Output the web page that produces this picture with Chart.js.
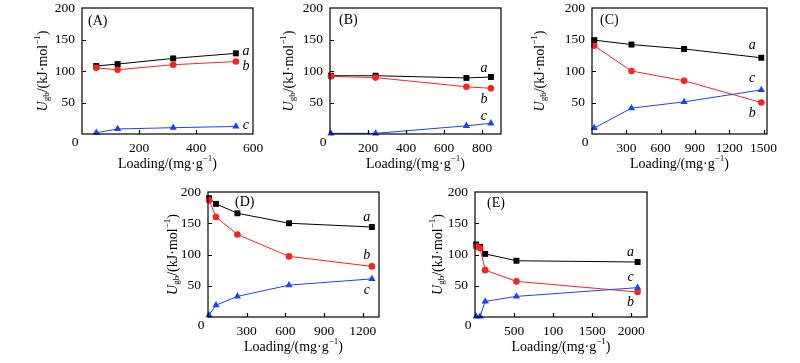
<!DOCTYPE html>
<html>
<head>
<meta charset="utf-8">
<script src="https://cdn.jsdelivr.net/npm/chart.js@4.4.0/dist/chart.umd.min.js"></script>
<style>
  body { margin: 0; background: #fff; width: 800px; height: 363px; position: relative; overflow: hidden; }
  canvas { position: absolute; }
</style>
</head>
<body>
<canvas id="chartA"></canvas>
<canvas id="chartB"></canvas>
<canvas id="chartC"></canvas>
<canvas id="chartD"></canvas>
<canvas id="chartE"></canvas>
<script>
// ---------------------- DATA ---------------------
const loadA = [50, 125, 320, 540];
const aA = [108, 111, 120, 128];
const bA = [105, 102, 110, 115];
const cA = [2, 8, 10, 12];
const xTicksA = [0, 200, 400, 600];

const loadB = [5, 240, 718, 847];
const aB = [92.5, 92.5, 89, 90.5];
const bB = [91.5, 89.5, 75, 72.5];
const cB = [1, 1, 13, 17];
const xTicksB = [0, 200, 400, 600, 800];

const loadC = [20, 345, 805, 1480];
const aC = [149, 142, 135, 121];
const bC = [140, 100, 84.5, 50];
const cC = [9.5, 41, 51, 70];
const xTicksC = [0, 300, 600, 900, 1200, 1500];

const loadD = [8, 62, 228, 628, 1270];
const aD = [190, 181, 166, 150, 144];
const bD = [187, 160, 132, 97, 81];
const cD = [3, 19, 33, 51, 61];
const xTicksD = [0, 300, 600, 900, 1200];

const loadE = [15, 65, 130, 530, 2080];
const aE = [116, 112, 101, 90, 88];
const bE = [113, 110, 75, 57, 40];
const cE = [1, 1, 25, 33, 47];
const xTicksE = [0, 500, 1000, 1500, 2000];
const xTickTextE = ["0", "500", "100", "1500", "2000"];   // as printed in the figure

const yTicks = [0, 50, 100, 150, 200];

// ---------------------- PANELS ---------------------
const SERIF = "'Liberation Serif', 'Times New Roman', serif";
const RED = "#ff2020";
const BLUE = "#1e40ff";

const panels = [
  { id: "chartA", letter: "(A)", L: 82, T: 8, R: 253, B: 134, xMax: 600, xTicks: xTicksA,
    load: loadA, a: aA, b: bA, c: cA, letterDx: 6, letterDy: 13, titleDx: -39,
    tagX: 575, tagY: { a: 132, b: 108, c: 14 } },
  { id: "chartB", letter: "(B)", L: 330, T: 8, R: 501, B: 134, xMax: 900, xTicks: xTicksB,
    load: loadB, a: aB, b: bB, c: cB, letterDx: 9, letterDy: 12, titleDx: -41,
    tagX: 810, tagY: { a: 105, b: 55, c: 28 } },
  { id: "chartC", letter: "(C)", L: 592, T: 8, R: 767, B: 134, xMax: 1530, xTicks: xTicksC,
    load: loadC, a: aC, b: bC, c: cC, letterDx: 8, letterDy: 12, titleDx: -52,
    tagX: 1400, tagY: { a: 141, b: 33, c: 89 } },
  { id: "chartD", letter: "(D)", L: 208, T: 192, R: 379, B: 317, xMax: 1325, xTicks: xTicksD,
    load: loadD, a: aD, b: bD, c: cD, letterDx: 27, letterDy: 10, titleDx: -35,
    tagX: 1230, tagY: { a: 160, b: 98, c: 43 } },
  { id: "chartE", letter: "(E)", L: 475, T: 192, R: 647, B: 317, xMax: 2200, xTicks: xTicksE,
    xTickText: xTickTextE,
    load: loadE, a: aE, b: bE, c: cE, letterDx: 12, letterDy: 11, titleDx: -37,
    tagX: 1990, tagY: { a: 103, b: 23, c: 64 } }
];

// draws text pieces side by side (for sub/superscripts), centred on cx
function richText(ctx, parts, cx, cy) {
  let w = 0;
  parts.forEach(p => { ctx.font = p[1]; w += ctx.measureText(p[0]).width; });
  let x = cx - w / 2;
  ctx.textAlign = "left";
  ctx.textBaseline = "middle";
  parts.forEach(p => {
    ctx.font = p[1];
    ctx.fillText(p[0], x, cy + p[2]);
    x += ctx.measureText(p[0]).width;
  });
}

const decoPlugin = {
  id: "deco",
  afterDraw(chart, args, o) {
    const ctx = chart.ctx;
    const ar = chart.chartArea;
    const xs = chart.scales.x, ys = chart.scales.y;
    ctx.save();
    ctx.strokeStyle = "#000";
    ctx.fillStyle = "#000";
    ctx.lineWidth = 1.2;
    ctx.strokeRect(ar.left, ar.top, ar.right - ar.left, ar.bottom - ar.top);

    // inward tick marks
    ctx.beginPath();
    xs.ticks.forEach(t => {
      if (t.value <= xs.min || t.value >= xs.max) return;
      const px = Math.round(xs.getPixelForValue(t.value)) + 0.5;
      ctx.moveTo(px, ar.bottom);
      ctx.lineTo(px, ar.bottom - 4);
    });
    ys.ticks.forEach(t => {
      if (t.value <= ys.min || t.value >= ys.max) return;
      const py = Math.round(ys.getPixelForValue(t.value)) + 0.5;
      ctx.moveTo(ar.left, py);
      ctx.lineTo(ar.left + 4, py);
    });
    ctx.stroke();

    // shared zero at the corner
    ctx.font = "13.5px " + SERIF;
    ctx.textAlign = "center";
    ctx.textBaseline = "middle";
    ctx.fillText("0", ar.left - 7, ar.bottom + 8);

    // panel letter
    ctx.font = "14px " + SERIF;
    ctx.textAlign = "left";
    ctx.fillText(o.letter, ar.left + o.letterDx, ar.top + o.letterDy);

    // series tags
    ctx.font = "italic 14px " + SERIF;
    ctx.textAlign = "center";
    Object.keys(o.tagY).forEach(k => {
      ctx.fillText(k, xs.getPixelForValue(o.tagX), ys.getPixelForValue(o.tagY[k]));
    });

    // x title
    const f14 = "14px " + SERIF, f9 = "9px " + SERIF;
    richText(ctx, [["Loading/(mg·g", f14, 0], ["\u22121", f9, -5], [")", f14, 0]],
      (ar.left + ar.right) / 2, ar.bottom + 30);

    // y title, rotated
    ctx.translate(ar.left + o.titleDx, (ar.top + ar.bottom) / 2);
    ctx.rotate(-Math.PI / 2);
    richText(ctx, [["U", "italic 14px " + SERIF, 0], ["gb", "9px " + SERIF, 4],
      ["/(kJ·mol", f14, 0], ["\u22121", f9, -5], [")", f14, 0]], 0, 0);
    ctx.restore();
  }
};

panels.forEach(p => {
  const cv = document.getElementById(p.id);
  const w = p.R - p.L + 66 + 20;
  const h = p.B - p.T + 8 + 42;
  cv.width = w; cv.height = h;
  cv.style.width = w + "px"; cv.style.height = h + "px";
  cv.style.left = (p.L - 66) + "px";
  cv.style.top = (p.T - 8) + "px";

  const pts = arr => p.load.map((x, i) => ({ x: x, y: arr[i] }));
  const tickFont = { family: SERIF, size: 13.5 };
  const xLabel = v => {
    if (v === 0) return "";
    const k = p.xTicks.indexOf(v);
    return p.xTickText && k >= 0 ? p.xTickText[k] : String(v);
  };

  new Chart(cv.getContext("2d"), {
    type: "line",
    data: {
      datasets: [
        { data: pts(p.c), borderColor: BLUE, backgroundColor: BLUE, pointStyle: "triangle", pointRadius: 4.2 },
        { data: pts(p.b), borderColor: RED, backgroundColor: RED, pointStyle: "circle", pointRadius: 3.3 },
        { data: pts(p.a), borderColor: "#000", backgroundColor: "#000", pointStyle: "rect", pointRadius: 4.2 }
      ].map(d => Object.assign(d, { borderWidth: 1, pointBorderWidth: 0, tension: 0, clip: false, fill: false }))
    },
    options: {
      responsive: false,
      animation: false,
      devicePixelRatio: 1,
      layout: { padding: { left: 0, top: 8, right: 20, bottom: 0 } },
      plugins: { legend: { display: false }, tooltip: { enabled: false }, deco: p },
      scales: {
        x: {
          type: "linear", min: 0, max: p.xMax,
          grid: { display: false, drawTicks: false }, border: { display: false },
          afterBuildTicks(s) { s.ticks = p.xTicks.map(v => ({ value: v })); },
          ticks: {
            padding: 6, color: "#000", font: tickFont, maxRotation: 0, autoSkip: false,
            callback: v => xLabel(v)
          },
          afterFit(s) { s.height = 42; s.paddingLeft = 0; s.paddingRight = 0; }
        },
        y: {
          type: "linear", min: 0, max: yTicks[yTicks.length - 1],
          grid: { display: false, drawTicks: false }, border: { display: false },
          afterBuildTicks(s) { s.ticks = yTicks.map(v => ({ value: v })); },
          ticks: {
            padding: 7, color: "#000", font: tickFont,
            callback: v => v === 0 ? "" : String(v)
          },
          afterFit(s) { s.width = 66; s.paddingTop = 0; s.paddingBottom = 0; }
        }
      }
    },
    plugins: [decoPlugin]
  });
});
</script>
</body>
</html>
